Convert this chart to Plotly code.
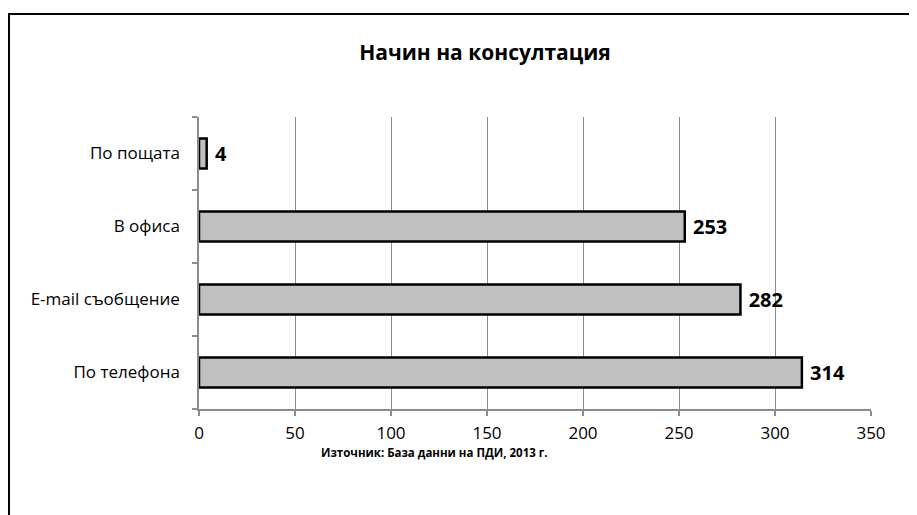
import plotly.graph_objects as go

categories = ["По телефона", "E-mail съобщение", "В офиса", "По пощата"]
values = [314, 282, 253, 4]
x_ticks = [0, 50, 100, 150, 200, 250, 300, 350]
title_text = "Начин на консултация"
source_text = "Източник: База данни на ПДИ, 2013 г."

FONT = "Open Sans"
GRID = "#8c8c8c"

# page body has an 8px margin; figure coordinates are page coordinates minus 8
OFF = 8
W, H = 917, 515
L = 199 - OFF
T = 117 - OFF
R = W - (871 - OFF)
B = H - (409 - OFF)
pw, ph = 672, 292


def px_x(p):
    return (p - 199) / pw


def px_y(p):
    return (409 - p) / ph


fig = go.Figure(go.Bar(
    y=categories, x=values, orientation="h",
    marker=dict(color="#c0c0c0", line=dict(color="black", width=2.5)),
    text=values, texttemplate=" %{x}", textposition="outside",
    textfont=dict(family=FONT, size=20, color="black", weight="bold"),
    cliponaxis=False,
))

fig.update_layout(
    width=W, height=H,
    margin=dict(l=L, r=R, t=T, b=B),
    plot_bgcolor="white", paper_bgcolor="white",
    bargap=0.59,
    showlegend=False,
    title=dict(text=title_text, x=(485 - OFF) / W, xanchor="center",
               y=1 - (53 - OFF) / H, yanchor="middle",
               font=dict(family=FONT, size=21, color="black", weight="bold")),
    font=dict(family=FONT, size=17, color="black"),
    xaxis=dict(range=[0, 350], tickvals=x_ticks, showgrid=True, gridcolor=GRID, gridwidth=1,
               showline=True, linecolor=GRID, linewidth=1.5, ticks="outside", ticklen=5,
               tickcolor=GRID, tickwidth=1.5, zeroline=False,
               tickfont=dict(family=FONT, size=17, color="black"), ticklabelstandoff=3),
    yaxis=dict(showline=True, linecolor=GRID, linewidth=1.5, ticks="outside", ticklen=5,
               tickcolor=GRID, tickwidth=1.5, tickson="boundaries", showgrid=False,
               tickfont=dict(family=FONT, size=17, color="black"), ticklabelstandoff=14),
    annotations=[dict(text=source_text, xref="paper", yref="paper", x=px_x(434), y=px_y(452),
                      xanchor="center", yanchor="middle", showarrow=False,
                      font=dict(family=FONT, size=11.5, color="black", weight="bold"))],
    shapes=[dict(type="rect", xref="paper", yref="paper",
                 x0=px_x(9), x1=px_x(935), y0=px_y(540), y1=px_y(14),
                 line=dict(color="black", width=2), fillcolor="rgba(0,0,0,0)", layer="above")],
)

fig.write_html("out.html")
